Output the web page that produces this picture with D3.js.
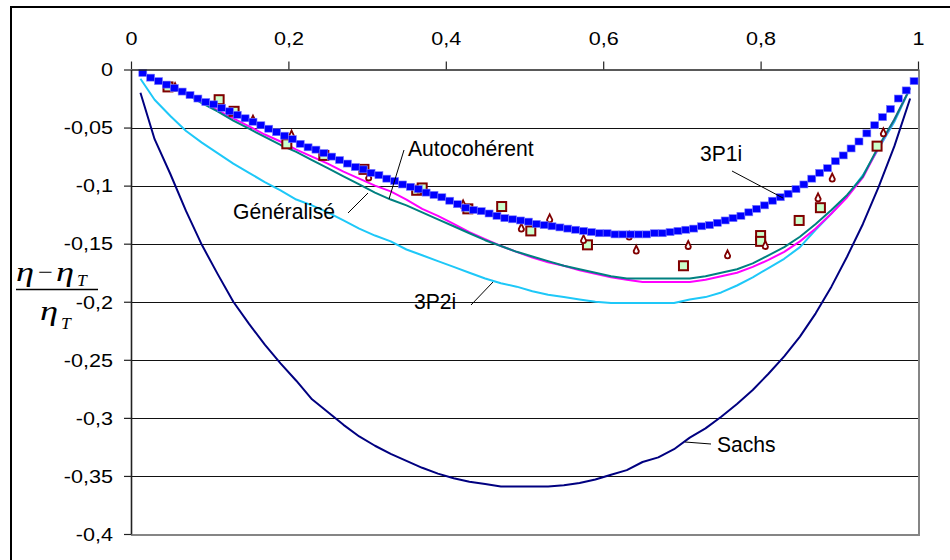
<!DOCTYPE html>
<html>
<head>
<meta charset="utf-8">
<script src="https://cdn.jsdelivr.net/npm/d3@7"></script>
<style>
  body { margin: 0; background: #fff; }
  svg { display: block; }
</style>
</head>
<body>
<svg id="chart" width="950" height="560"></svg>
<script>
// ---- Data -------------------------------------------------------------
const xTicks = [0, 0.2, 0.4, 0.6, 0.8, 1];
const yTicks = [0, -0.05, -0.1, -0.15, -0.2, -0.25, -0.3, -0.35, -0.4];

// abscissa shared by the four model curves
const lineX = [0.012, 0.03, 0.05, 0.07, 0.09, 0.11, 0.13, 0.15, 0.17, 0.19,
  0.21, 0.23, 0.25, 0.27, 0.29, 0.31, 0.33, 0.35, 0.37, 0.39,
  0.41, 0.43, 0.45, 0.47, 0.49, 0.51, 0.53, 0.55, 0.57, 0.59,
  0.61, 0.63, 0.65, 0.67, 0.69, 0.71, 0.73, 0.75, 0.77, 0.79,
  0.81, 0.83, 0.85, 0.87, 0.89, 0.91, 0.93, 0.95, 0.97, 0.99];

const sachs = [-0.020, -0.060, -0.090, -0.122, -0.151, -0.176, -0.200, -0.219, -0.237, -0.253,
  -0.268, -0.284, -0.295, -0.306, -0.316, -0.324, -0.331, -0.337, -0.343, -0.348,
  -0.352, -0.355, -0.357, -0.359, -0.359, -0.359, -0.359, -0.358, -0.356, -0.353,
  -0.349, -0.345, -0.338, -0.334, -0.327, -0.317, -0.309, -0.299, -0.288, -0.276,
  -0.262, -0.247, -0.230, -0.210, -0.187, -0.161, -0.133, -0.101, -0.066, -0.025];

const model3P2i = [-0.008, -0.026, -0.040, -0.053, -0.063, -0.072, -0.081, -0.089, -0.097, -0.104,
  -0.112, -0.117, -0.123, -0.130, -0.137, -0.143, -0.148, -0.155, -0.160, -0.165,
  -0.170, -0.175, -0.180, -0.184, -0.187, -0.191, -0.194, -0.196, -0.198, -0.200,
  -0.201, -0.201, -0.201, -0.201, -0.201, -0.198, -0.196, -0.192, -0.186, -0.179,
  -0.171, -0.163, -0.153, -0.138, -0.124, -0.109, -0.091, -0.068, -0.045, -0.016];

const autocoherent = [-0.002, -0.008, -0.014, -0.021, -0.028, -0.035, -0.042, -0.049, -0.056, -0.062,
  -0.069, -0.075, -0.081, -0.088, -0.094, -0.100, -0.105, -0.112, -0.120, -0.126,
  -0.133, -0.140, -0.146, -0.152, -0.157, -0.162, -0.166, -0.169, -0.173, -0.176,
  -0.179, -0.181, -0.183, -0.183, -0.183, -0.183, -0.181, -0.178, -0.175, -0.170,
  -0.164, -0.157, -0.148, -0.137, -0.124, -0.110, -0.093, -0.067, -0.043, -0.016];

const generalise = [-0.002, -0.008, -0.014, -0.021, -0.029, -0.036, -0.044, -0.051, -0.058, -0.065,
  -0.071, -0.078, -0.085, -0.092, -0.099, -0.106, -0.112, -0.117, -0.123, -0.129,
  -0.135, -0.141, -0.147, -0.152, -0.157, -0.161, -0.165, -0.169, -0.172, -0.175,
  -0.178, -0.180, -0.180, -0.180, -0.180, -0.180, -0.178, -0.175, -0.172, -0.167,
  -0.160, -0.153, -0.144, -0.133, -0.121, -0.108, -0.092, -0.066, -0.043, -0.016];

// 3P1i model, plotted as markers
const p3P1iX = [0.015, 0.025, 0.035, 0.045, 0.055, 0.065, 0.075, 0.085, 0.095, 0.105,
  0.115, 0.125, 0.135, 0.145, 0.155, 0.165, 0.175, 0.185, 0.195, 0.205,
  0.215, 0.225, 0.235, 0.245, 0.255, 0.265, 0.275, 0.285, 0.295, 0.305,
  0.315, 0.325, 0.335, 0.345, 0.355, 0.365, 0.375, 0.385, 0.395, 0.405,
  0.415, 0.425, 0.435, 0.445, 0.455, 0.465, 0.475, 0.485, 0.495, 0.505,
  0.515, 0.525, 0.535, 0.545, 0.555, 0.565, 0.575, 0.585, 0.595, 0.605,
  0.615, 0.625, 0.635, 0.645, 0.655, 0.665, 0.675, 0.685, 0.695, 0.705,
  0.715, 0.725, 0.735, 0.745, 0.755, 0.765, 0.775, 0.785, 0.795, 0.805,
  0.815, 0.825, 0.835, 0.845, 0.855, 0.865, 0.875, 0.885, 0.895, 0.905,
  0.915, 0.925, 0.935, 0.945, 0.955, 0.965, 0.975, 0.985, 0.995];
const p3P1iY = [-0.003, -0.007, -0.010, -0.013, -0.016, -0.019, -0.022, -0.025, -0.028, -0.030,
  -0.033, -0.036, -0.039, -0.042, -0.045, -0.048, -0.051, -0.054, -0.057, -0.060,
  -0.064, -0.067, -0.069, -0.072, -0.075, -0.078, -0.081, -0.084, -0.086, -0.089,
  -0.091, -0.094, -0.096, -0.099, -0.101, -0.103, -0.106, -0.108, -0.110, -0.113,
  -0.116, -0.119, -0.121, -0.122, -0.124, -0.126, -0.128, -0.129, -0.130, -0.131,
  -0.133, -0.134, -0.135, -0.136, -0.137, -0.138, -0.139, -0.140, -0.141, -0.141,
  -0.142, -0.142, -0.142, -0.142, -0.142, -0.141, -0.141, -0.140, -0.139, -0.138,
  -0.137, -0.135, -0.134, -0.132, -0.130, -0.128, -0.126, -0.123, -0.120, -0.117,
  -0.113, -0.110, -0.107, -0.103, -0.099, -0.094, -0.089, -0.085, -0.079, -0.074,
  -0.068, -0.062, -0.055, -0.048, -0.041, -0.034, -0.025, -0.018, -0.010];

// measurements, first set (squares)
const expAX = [0.047, 0.112, 0.131, 0.198, 0.245, 0.296, 0.363, 0.370, 0.428,
  0.471, 0.508, 0.580, 0.702, 0.800, 0.800, 0.849, 0.876, 0.948];
const expAY = [-0.015, -0.026, -0.036, -0.064, -0.074, -0.086, -0.104, -0.102, -0.120,
  -0.118, -0.139, -0.151, -0.169, -0.143, -0.148, -0.130, -0.119, -0.066];

// measurements, second set (small drops)
const expBX = [0.056, 0.155, 0.204, 0.302, 0.422, 0.496, 0.532, 0.575,
  0.633, 0.642, 0.708, 0.758, 0.806, 0.873, 0.891, 0.956];
const expBY = [-0.016, -0.044, -0.057, -0.093, -0.117, -0.137, -0.129, -0.147,
  -0.144, -0.156, -0.152, -0.160, -0.152, -0.111, -0.094, -0.055];

const curveNames = ["Autocohérent", "Généralisé", "3P2i", "3P1i", "Sachs"];

// ---- Chart --------------------------------------------------------------
const svg = d3.select("#chart");
const FONT = "'Liberation Sans', Arial, Helvetica, sans-serif";
const SERIF = "'Liberation Serif', 'Times New Roman', serif";

const x = d3.scaleLinear().domain([0, 1]).range([131, 918]);
const y = d3.scaleLinear().domain([0, -0.4]).range([69.5, 534]);

const fr = d3.formatLocale({decimal: ",", thousands: "\u00a0", grouping: [3],
  currency: ["", "\u00a0€"], minus: "-"});
const fmt = fr.format("~g");

// outer chart frame
svg.append("rect")
  .attr("x", 11).attr("y", 7).attr("width", 1000).attr("height", 600)
  .attr("fill", "none").attr("stroke", "#000").attr("stroke-width", 2);

// horizontal gridlines
svg.append("g").selectAll("line")
  .data(yTicks.filter(d => d !== 0 && d !== -0.4))
  .join("line")
  .attr("x1", x(0)).attr("x2", x(1))
  .attr("y1", d => Math.round(y(d)) + 0.5).attr("y2", d => Math.round(y(d)) + 0.5)
  .attr("stroke", "#111").attr("stroke-width", 1);

// plot-area border (right and bottom)
svg.append("path")
  .attr("d", `M${x(1) + 1},${y(0)}V${y(-0.4) + 1}H${x(0)}`)
  .attr("fill", "none").attr("stroke", "#858585").attr("stroke-width", 2);

// model curves
const line = d3.line().x(d => x(d[0])).y(d => y(d[1]));
const curves = [
  {vals: sachs, color: "#000080"},
  {vals: model3P2i, color: "#1ec8f8"},
  {vals: autocoherent, color: "#ff00ff"},
  {vals: generalise, color: "#008080"}
];
svg.append("g").selectAll("path")
  .data(curves)
  .join("path")
  .attr("d", c => line(lineX.map((v, i) => [v, c.vals[i]])))
  .attr("fill", "none")
  .attr("stroke", c => c.color)
  .attr("stroke-width", 2)
  .attr("stroke-linejoin", "round");

// measured points: squares
svg.append("g").selectAll("rect")
  .data(expAX.map((v, i) => [v, expAY[i]]))
  .join("rect")
  .attr("x", d => x(d[0]) - 4.5).attr("y", d => y(d[1]) - 4.5)
  .attr("width", 9).attr("height", 9)
  .attr("fill", "#ccffcc").attr("stroke", "#800000").attr("stroke-width", 2);

// measured points: drops
svg.append("g").selectAll("path")
  .data(expBX.map((v, i) => [v, expBY[i]]))
  .join("path")
  .attr("transform", d => `translate(${x(d[0])},${y(d[1])})`)
  .attr("d", "M0,-5L2.6,0.4A2.6,2.6 0 1 1 -2.6,0.4Z")
  .attr("fill", "#fff").attr("stroke", "#800000").attr("stroke-width", 1.8);

// 3P1i markers
svg.append("g").selectAll("rect")
  .data(p3P1iX.map((v, i) => [v, p3P1iY[i]]))
  .join("rect")
  .attr("x", d => x(d[0]) - 4).attr("y", d => y(d[1]) - 3.5)
  .attr("width", 8).attr("height", 7)
  .attr("fill", "#0000ff").attr("stroke", "#7a7aff").attr("stroke-width", 0.6);

// axes
const gx = svg.append("g")
  .attr("transform", `translate(0,${y(0)})`)
  .call(d3.axisTop(x).tickValues(xTicks).tickSize(8).tickSizeOuter(0).tickFormat(fmt));
gx.attr("font-size", 18).attr("font-family", FONT);
gx.select(".domain").attr("stroke", "#222").attr("stroke-width", 1.6);
gx.selectAll(".tick line").attr("stroke", "#222").attr("stroke-width", 1.2);
gx.selectAll(".tick text")
  .attr("y", 0).attr("dy", null)
  .attr("transform", "translate(0,-25) scale(1.2,1)")
  .attr("fill", "#000");

const gy = svg.append("g")
  .attr("transform", `translate(${x(0)},0)`)
  .call(d3.axisLeft(y).tickValues(yTicks).tickSize(7).tickSizeOuter(0).tickFormat(fmt));
gy.attr("font-size", 18).attr("font-family", FONT);
gy.select(".domain").attr("stroke", "#222").attr("stroke-width", 1.6);
gy.selectAll(".tick line").attr("stroke", "#222").attr("stroke-width", 1.2);
gy.selectAll(".tick text")
  .attr("x", 0).attr("y", 0).attr("dy", null)
  .attr("text-anchor", "end")
  .attr("transform", "translate(-18,6.3) scale(1.2,1)")
  .attr("fill", "#000");

// curve labels with leader lines
const ann = svg.append("g").attr("font-family", FONT).attr("font-size", 22).attr("fill", "#000");
const labelPos = [
  {tx: 408, ty: 156, l: [404, 150, 389, 199]},
  {tx: 233, ty: 219, l: [348, 213, 368, 193]},
  {tx: 414, ty: 309, l: [471, 305, 493, 282]},
  {tx: 700, ty: 161, l: [732, 171, 783, 198]},
  {tx: 717, ty: 452, l: [711, 444, 685, 442]}
];
curveNames.forEach((name, i) => {
  const p = labelPos[i];
  ann.append("text")
    .attr("transform", `translate(${p.tx},${p.ty}) scale(0.96,1)`)
    .text(name);
  ann.append("line")
    .attr("x1", p.l[0]).attr("y1", p.l[1]).attr("x2", p.l[2]).attr("y2", p.l[3])
    .attr("stroke", "#000").attr("stroke-width", 1);
});

// y-axis title: (eta - eta_T) / eta_T
const yt = svg.append("g").attr("font-family", SERIF).attr("fill", "#000");
function glyph(str, gx0, gy0, size, sx, italic) {
  yt.append("text")
    .attr("transform", `translate(${gx0},${gy0}) scale(${sx},1)`)
    .attr("font-size", size)
    .attr("font-style", italic ? "italic" : "normal")
    .text(str);
}
glyph("η", 16, 281, 27, 1.35, true);
glyph("−", 38, 280, 24, 1.1, false);
glyph("η", 56, 281, 27, 1.35, true);
glyph("T", 77, 286, 16, 1.1, true);
yt.append("line")
  .attr("x1", 16).attr("x2", 98).attr("y1", 289.5).attr("y2", 289.5)
  .attr("stroke", "#000").attr("stroke-width", 1.5);
glyph("η", 40, 320, 27, 1.35, true);
glyph("T", 61, 329, 16, 1.1, true);
</script>
</body>
</html>
